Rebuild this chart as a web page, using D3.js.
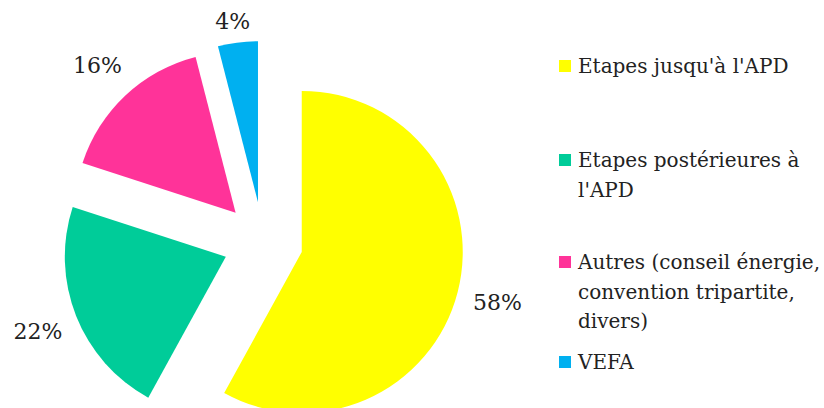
<!DOCTYPE html>
<html>
<head>
<meta charset="utf-8">
<script src="https://cdn.jsdelivr.net/npm/d3@7"></script>
<style>
  html, body { margin: 0; padding: 0; background: #fff; }
  svg { display: block; }
  text { font-family: "DejaVu Serif", "Liberation Serif", serif; fill: #222; }
</style>
</head>
<body>
<svg id="chart" width="824" height="408"></svg>
<script>
// ---- data ----
const categories = [
  "Etapes jusqu'à l'APD",
  "Etapes postérieures à\nl'APD",
  "Autres (conseil énergie,\nconvention tripartite,\ndivers)",
  "VEFA"
];
const values = [58, 22, 16, 4];
const valueLabels = ["58%", "22%", "16%", "4%"];
const colors = ["#FFFF00", "#00CC99", "#FF3399", "#00B0F0"];

// ---- layout ----
const W = 824, H = 408;
const cx = 263, cy = 242, radius = 161, explode = 40;
const fontSize = 20, labelFontSize = 22;
const labelDist = radius + 41;
const labelMinY = 21; // labels kept inside the plot area

const svg = d3.select("#chart");

const pie = d3.pie().sort(null).value(d => d.value)
  .startAngle(0).endAngle(2 * Math.PI);
const arc = d3.arc().innerRadius(0).outerRadius(radius);

const data = values.map((v, i) => ({ value: v, name: categories[i], label: valueLabels[i], color: colors[i] }));
const arcs = pie(data);

const g = svg.append("g").attr("transform", `translate(${cx},${cy})`);

arcs.forEach(a => {
  const mid = (a.startAngle + a.endAngle) / 2;
  const ux = Math.sin(mid), uy = -Math.cos(mid);
  const ox = ux * explode, oy = uy * explode;
  const sg = g.append("g").attr("transform", `translate(${ox},${oy})`);
  sg.append("path").attr("d", arc(a)).attr("fill", a.data.color);

  // label outside end, clamped to the plot area
  let lx = ux * labelDist, ly = uy * labelDist;
  const absY = cy + oy + ly;
  if (absY < labelMinY) ly += labelMinY - absY;
  sg.append("text")
    .attr("text-anchor", "middle")
    .attr("dominant-baseline", "central")
    .attr("font-size", labelFontSize)
    .attr("x", lx).attr("y", ly)
    .text(a.data.label);
});

// ---- legend ----
const legendX = 559, textX = 578, sq = 12, lineH = 29.5;
const legendY = [66, 160, 262, 362];
const lg = svg.append("g");
data.forEach((d, i) => {
  lg.append("rect")
    .attr("x", legendX).attr("y", legendY[i] - sq / 2)
    .attr("width", sq).attr("height", sq)
    .attr("fill", d.color);
  const lines = d.name.split("\n");
  const t = lg.append("text")
    .attr("font-size", fontSize)
    .attr("dominant-baseline", "central");
  lines.forEach((ln, j) => {
    t.append("tspan").attr("x", textX).attr("y", legendY[i] + j * lineH).text(ln);
  });
});
</script>
</body>
</html>
